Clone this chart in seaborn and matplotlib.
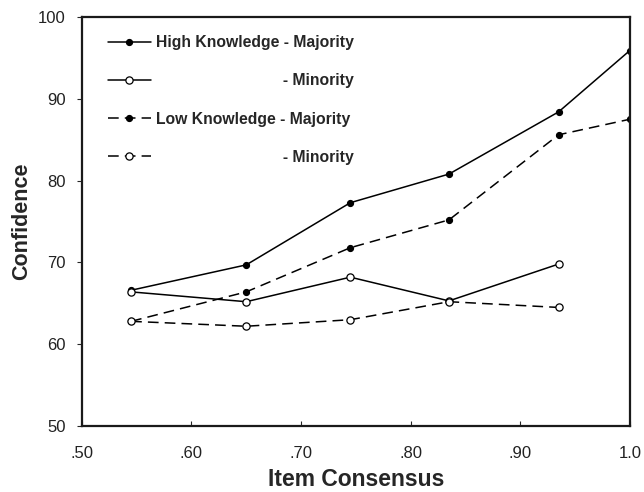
import matplotlib
matplotlib.use("Agg")
import matplotlib.pyplot as plt
import seaborn as sns
import pandas as pd
from matplotlib.font_manager import FontProperties

# Values
consensus = [0.545, 0.65, 0.745, 0.835, 0.935, 1.0]
high_majority = [66.6, 69.7, 77.3, 80.8, 88.4, 95.9]
high_minority = [66.4, 65.2, 68.2, 65.3, 69.8]
low_majority = [62.8, 66.4, 71.8, 75.2, 85.6, 87.5]
low_minority = [62.8, 62.2, 63.0, 65.2, 64.5]

x_ticks = [0.5, 0.6, 0.7, 0.8, 0.9, 1.0]
x_tick_labels = [".50", ".60", ".70", ".80", ".90", "1.0"]
y_ticks = [50, 60, 70, 80, 90, 100]

sns.set_style("ticks")
plt.rcParams["font.family"] = ["Liberation Sans", "DejaVu Sans"]

fig = plt.figure(figsize=(6.44, 4.92), dpi=100)
ax = fig.add_axes([0.127, 0.134, 0.851, 0.8315])

solid = "-"
dashed = (0, (7, 4))
series = [
    (high_majority, consensus, solid, "black", 4.3, "High Knowledge - Majority"),
    (low_majority, consensus, dashed, "black", 4.3, "Low Knowledge - Majority"),
    (high_minority, consensus[:5], solid, "white", 5.2, "High Knowledge - Minority"),
    (low_minority, consensus[:5], dashed, "white", 5.2, "Low Knowledge - Minority"),
]
for vals, xs, ls, face, ms, name in series:
    df = pd.DataFrame({"consensus": xs, "confidence": vals})
    sns.lineplot(data=df, x="consensus", y="confidence", ax=ax, color="black",
                 linewidth=1.1, linestyle=ls, marker="o", markersize=ms,
                 markerfacecolor=face, markeredgecolor="black",
                 markeredgewidth=0.9, label=name)

ax.set_xlim(0.5, 1.0)
ax.set_ylim(50, 100)
ax.set_xticks(x_ticks)
ax.set_xticklabels(x_tick_labels)
ax.set_yticks(y_ticks)
ax.tick_params(axis="x", direction="in", length=3.5, width=0.8, pad=14.5,
               labelsize=12, labelcolor="#222222")
ax.tick_params(axis="y", direction="out", length=3.5, width=0.8, pad=8,
               labelsize=12, labelcolor="#222222")
for sp in ax.spines.values():
    sp.set_linewidth(1.6)
    sp.set_color("#1a1a1a")

ax.set_xlabel("Item Consensus", fontsize=16.5, fontweight="bold", labelpad=5)
ax.set_ylabel("Confidence", fontsize=15.5, fontweight="bold", labelpad=4.5)

# legend: minority rows right-aligned under the majority rows
fp = FontProperties(family="Liberation Sans", weight="bold", size=11.3)
renderer = fig.canvas.get_renderer()


def text_w(s):
    return renderer.get_text_width_height_descent(s, fp, ismath=False)[0]


space_w = text_w("a a") - text_w("aa")


def padded(full, short):
    n = int(round((text_w(full) - text_w(short)) / space_w))
    return " " * n + short


handles = ax.get_lines()[:4]
order = [0, 2, 1, 3]
labels = [
    "High Knowledge - Majority",
    padded("High Knowledge - Majority", "- Minority"),
    "Low Knowledge - Majority",
    padded("High Knowledge - Majority", "- Minority"),
]
ax.legend([handles[i] for i in order], labels, loc="upper left",
          bbox_to_anchor=(0.047, 0.955), frameon=False, prop=fp,
          handlelength=2.75, handletextpad=0.35, labelspacing=1.47,
          borderpad=0, borderaxespad=0)

fig.savefig("out.png", dpi=100)
